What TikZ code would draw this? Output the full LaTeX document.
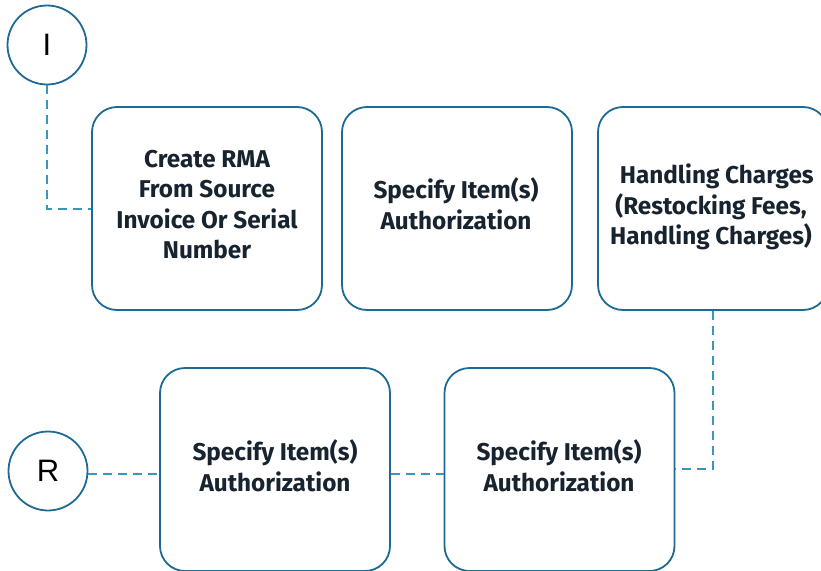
\documentclass[tikz,border=0pt]{standalone}
\usepackage{fontspec}
\setmainfont{Fira Sans}
\newfontfamily\circfont{Liberation Sans}
\definecolor{boxblue}{HTML}{1F6A93}
\definecolor{dashblue}{HTML}{3A97B8}
\definecolor{txt}{HTML}{17232E}
\begin{document}
\begin{tikzpicture}[x=1pt,y=-1pt,
  stepbox/.style={draw=boxblue,line width=1.8pt,rounded corners=25pt,minimum width=230pt,minimum height=203pt,inner sep=0pt},
  lbl/.style={text=txt,font=\fontsize{24.3}{30.5}\selectfont\bfseries,align=center,inner sep=0pt},
  circ/.style={draw=boxblue,line width=1.8pt,circle,minimum size=79pt,inner sep=0pt,font=\circfont\fontsize{31}{31}\selectfont},
  conn/.style={draw=dashblue,line width=2pt,dash pattern=on 9pt off 6pt}]
\useasboundingbox (0,0) rectangle (821,570);
\node[circ] (I) at (47,45) {I};
\node[circ] (R) at (48,471) {R};
\node[stepbox] (b1) at (207,208.5) {};
\node[lbl] (t1) at (207,204.5) {Create RMA\\From Source\\Invoice Or Serial\\Number};
\node[stepbox] (b2) at (457,208.5) {};
\node[lbl] (t2) at (456,204) {Specify Item(s)\\Authorization};
\node[stepbox] (b3) at (713,208.5) {};
\node[lbl] (t3) at (711,207) {\ \ Handling Charges\\(Restocking Fees,\\Handling Charges)\ };
\node[stepbox] (b4) at (275,469.5) {};
\node[lbl] (t4) at (275,466) {Specify Item(s)\\Authorization};
\node[stepbox] (b5) at (559.5,469.5) {};
\node[lbl] (t5) at (559,466) {Specify Item(s)\\Authorization};
\coordinate (c1) at (47,209);
\coordinate (c2) at (713,469);
\draw[conn] (I.south) -- (c1) -- (b1.west |- c1);
\draw[conn] (R.east |- 0,474) -- (b4.west |- 0,474);
\draw[conn] (b4.east |- 0,474) -- (b5.west |- 0,474);
\draw[conn] (b3.south) -- (c2) -- (b5.east |- c2);
\end{tikzpicture}
\end{document}
